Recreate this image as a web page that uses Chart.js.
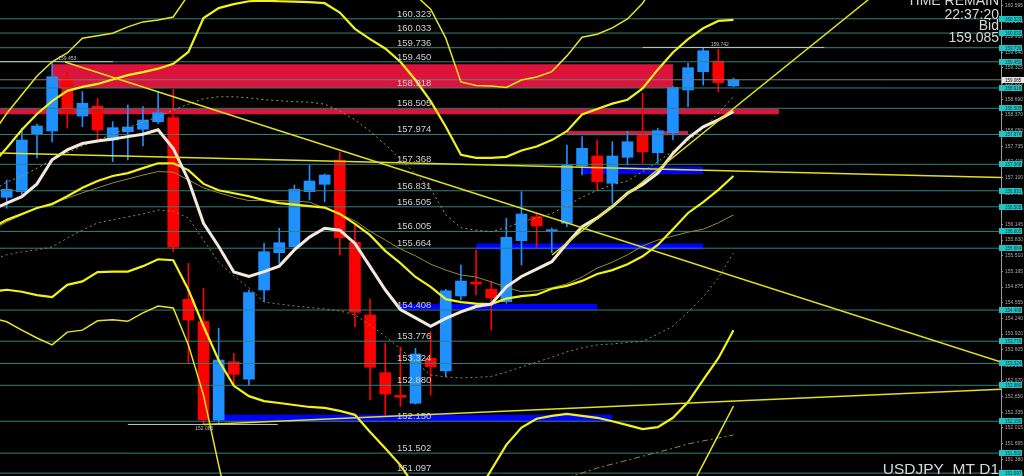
<!DOCTYPE html>
<html><head><meta charset="utf-8">
<script src="https://cdn.jsdelivr.net/npm/chart.js@4.4.0/dist/chart.umd.min.js"></script>
<style>html,body{margin:0;padding:0;background:#000;overflow:hidden}canvas{display:block}</style>
</head><body>
<canvas id="c" width="1024" height="476"></canvas>
<script>
// ---- candles (bar index 0..48) ----
const candleOpen  = [156.698,156.812,157.984,158.044,159.115,158.349,158.552,157.862,158.030,158.079,158.233,158.315,154.627,154.172,152.175,153.359,153.002,154.815,155.573,155.695,156.812,156.962,157.456,155.784,154.308,153.136,152.669,152.514,153.428,153.170,154.694,154.972,154.830,154.578,155.817,156.304,156.000,156.170,157.334,157.537,156.982,157.510,157.963,157.604,158.010,158.877,159.249,159.466,158.960];
const candleHigh  = [157.049,158.105,158.187,159.453,159.243,158.843,158.709,158.233,158.573,158.538,158.843,158.891,155.358,154.850,154.037,153.530,154.815,155.764,156.068,156.948,157.354,157.171,157.618,156.135,154.633,153.733,153.664,153.631,153.968,154.830,155.323,155.628,154.984,156.272,156.812,156.385,156.075,157.760,157.929,157.862,157.827,158.045,158.810,158.099,158.958,159.419,159.742,159.704,159.120];
const candleLow   = [156.475,156.745,157.496,157.821,158.100,158.132,157.862,157.421,157.456,157.740,158.201,155.593,153.327,152.085,152.114,152.886,152.886,154.578,155.358,155.668,156.643,156.609,155.526,154.070,152.581,152.277,152.445,152.500,152.683,153.055,154.612,154.714,154.003,154.545,155.323,155.683,155.573,156.101,157.151,156.861,156.576,157.354,157.389,157.389,157.862,158.538,158.979,158.843,158.940];
const candleClose = [156.860,157.862,158.146,159.147,158.404,158.607,158.065,158.112,158.126,158.268,158.416,155.683,154.206,152.175,153.394,153.103,154.761,155.593,155.776,156.861,157.029,157.151,155.878,154.362,153.246,152.703,152.636,153.516,153.258,154.801,154.998,154.937,154.659,155.886,156.359,156.115,156.034,157.354,157.693,157.015,157.537,157.827,157.624,158.051,158.932,159.330,159.675,159.026,159.085];

// ---- indicator series (bar index -1..48) ----
const maWhite = [156.44,156.58,156.71,156.97,157.46,157.66,157.79,157.84,157.88,157.93,157.98,158.07,157.69,157.05,156.17,155.70,155.18,155.09,155.19,155.30,155.63,155.89,156.07,156.03,155.76,155.29,154.82,154.42,154.25,154.08,154.24,154.37,154.48,154.53,154.88,155.09,155.24,155.39,155.76,156.10,156.28,156.51,156.78,156.96,157.19,157.59,157.90,158.13,158.27,158.44];
const bandOuterUpper = [157.96,158.40,158.78,159.16,159.45,159.63,159.93,159.98,160.03,160.16,160.26,160.30,160.36,160.81,161.52,161.92,162.23,162.43,162.53,162.57,162.57,162.49,162.33,162.13,161.82,161.52,161.21,161.05,160.80,160.52,159.93,159.04,158.97,158.96,158.93,159.08,159.14,159.25,159.57,159.95,160.01,160.14,160.32,160.64,161.11,161.52,161.82,162.13,162.33,162.53];
const bandUpper = [157.35,157.70,158.07,158.39,158.65,158.86,158.94,159.00,159.09,159.18,159.24,159.31,159.41,159.65,160.34,160.54,160.62,160.68,160.69,160.68,160.67,160.66,160.64,160.45,160.12,159.91,159.72,159.45,159.08,158.65,158.13,157.56,157.50,157.50,157.52,157.65,157.73,157.86,158.04,158.38,158.49,158.60,158.68,158.91,159.29,159.64,159.91,160.13,160.28,160.30];
const centerDotted = [156.81,157.01,157.13,157.29,157.46,157.60,157.74,157.86,157.98,158.11,158.23,158.33,158.47,158.59,158.70,158.74,158.74,158.72,158.68,158.66,158.64,158.63,158.59,158.45,158.27,158.04,157.77,157.48,157.17,156.87,156.34,156.08,156.03,156.00,156.08,156.20,156.28,156.37,156.53,156.70,156.84,156.95,157.03,157.22,157.42,157.64,157.84,158.09,158.41,158.74];
const bandMiddleLower = [156.07,156.24,156.36,156.48,156.56,156.72,156.89,157.03,157.13,157.19,157.29,157.39,157.39,157.25,156.97,156.84,156.78,156.72,156.64,156.58,156.55,156.52,156.49,156.36,156.16,155.93,155.61,155.36,155.08,154.88,154.63,154.57,154.54,154.53,154.64,154.69,154.72,154.84,154.90,155.00,155.14,155.22,155.34,155.50,155.73,156.05,156.38,156.60,156.85,157.13];
const oliveLine = [156.03,156.20,156.34,156.48,156.58,156.68,156.79,156.89,156.99,157.07,157.15,157.22,157.21,157.05,156.89,156.79,156.70,156.63,156.64,156.63,156.62,156.60,156.48,156.36,156.22,156.01,155.83,155.65,155.51,155.34,155.22,155.12,155.08,154.98,154.87,154.78,154.80,154.86,154.94,155.08,155.26,155.38,155.53,155.71,155.83,155.91,155.99,156.05,156.18,156.34];
const lowerDotted = [155.42,155.53,155.59,155.63,155.69,155.87,156.03,156.18,156.24,156.30,156.36,156.44,156.41,156.28,155.83,155.38,155.10,154.86,154.57,154.53,154.49,154.46,154.43,154.39,154.31,154.10,153.88,153.62,153.35,153.09,153.05,153.03,153.04,153.06,153.15,153.25,153.35,153.45,153.56,153.64,153.70,153.72,153.75,153.77,153.92,154.08,154.37,154.67,155.06,155.57];
const bandLower = [154.78,154.82,154.78,154.71,154.67,154.92,154.99,155.18,155.19,155.19,155.30,155.44,155.42,154.82,154.08,153.39,152.87,152.66,152.56,152.52,152.48,152.44,152.42,152.36,152.28,151.93,151.60,151.26,150.80,150.40,150.25,150.35,150.65,151.16,151.67,152.02,152.20,152.26,152.30,152.26,152.22,152.15,152.07,151.99,152.03,152.22,152.54,152.99,153.43,154.00];
const bandOuterLower = [154.25,154.17,154.00,153.84,153.70,153.96,154.00,154.19,154.21,154.18,154.35,154.49,154.45,153.70,152.68,151.26,149.94,149.13,148.50,148.50,148.50,148.50,148.50,148.50,148.50,148.50,148.50,148.50,148.50,148.50,148.50,148.50,148.50,148.50,148.50,148.50,148.50,148.50,148.50,148.50,148.50,148.50,148.50,148.50,148.50,148.50,150.69,151.28,151.87,152.46];
const dashDotLine = [null,null,null,null,null,null,null,null,null,null,null,null,null,null,null,null,null,null,null,null,null,null,null,null,null,null,null,null,null,null,null,null,null,null,null,null,null,null,151.00,151.10,151.20,151.28,151.36,151.44,151.52,151.60,151.69,151.75,151.81,151.87];

// ---- trendlines: [bar, price] endpoints ----
const trendFromBar   = [3.85, -0.4425, 13, 36.02];
const trendFromPrice = [159.446, 157.598, 152.085, 155.526];
const trendToBar     = [65.67, 65.67, 65.67, 60];
const trendToPrice   = [153.353, 157.100, 152.800, 161.48];

// ---- horizontal levels ----
const levelValues = [160.323,160.033,159.736,159.450,158.918,158.505,157.974,157.368,156.831,156.505,156.005,155.664,154.408,153.776,153.324,152.880,152.150,151.502,151.097];
const levelLabels = ['160.323','160.033','159.736','159.450','158.918','158.505','157.974','157.368','156.831','156.505','156.005','155.664','154.408','153.776','153.324','152.880','152.150','151.502','151.097'];
const bidPrice = 159.085;
const bidLabel = '159.085';

// ---- zones ----
const redZoneFrom = [3, -0.4425, 37];
const redZoneTo = [44, 51, 45];
const redZoneTop = [159.40, 158.49, 158.045];
const redZoneBottom = [158.918, 158.385, 157.957];
const blueZoneFrom = [13.6, 26, 31, 38];
const blueZoneTo = [40, 39, 46, 46];
const blueZoneTop = [152.28, 154.53, 155.76, 157.32];
const blueZoneBottom = [152.14, 154.42, 155.64, 157.17];

// ---- high / low marks ----
const markPrice = [159.453, 152.085, 159.742];
const markLabel = ['159.453', '152.085', '159.742'];
const markFrom = [-0.4425, 8.0, 42.0];
const markTo = [7.02, 17.9, 54.0];
const markLabelBar = [3.4, 12.45, 46.5];

// ---- right axis ticks ----
const axisTickLabels = ['151.060','151.380','151.695','152.015','152.335','152.650','152.970','153.285','153.605','153.920','154.240','154.555','154.875','155.195','155.510','155.830','156.145','156.465','156.780','157.100','157.415','157.735','158.050','158.370','158.690','159.005','159.325','159.640','159.960','160.275','160.595'];

const X_MIN = -0.4425, X_MAX = 65.67, Y_MIN = 151.038, Y_MAX = 160.705;
const LEVEL_LABEL_BAR = 25.78;

const BLUE = '#1e90ff', RED = '#ff0000';
const bars = candleOpen.map((_, i) => i);
const candleColors = bars.map(i => candleClose[i] >= candleOpen[i] ? BLUE : RED);
const series = arr => arr.map((v, k) => ({x: k - 1, y: v}));

const datasets = [];
// zones (bottom)
redZoneFrom.forEach((f, k) => datasets.push({type:'line', data:[{x:f,y:redZoneTop[k]},{x:redZoneTo[k],y:redZoneTop[k]}], borderWidth:0, pointRadius:0, fill:{value:redZoneBottom[k]}, backgroundColor: k===2 ? '#c81e46' : '#dc143c', order:100}));
blueZoneFrom.forEach((f, k) => datasets.push({type:'line', data:[{x:f,y:blueZoneTop[k]},{x:blueZoneTo[k],y:blueZoneTop[k]}], borderWidth:0, pointRadius:0, fill:{value:blueZoneBottom[k]}, backgroundColor:'#0000ff', order:99}));
// candles
datasets.push({type:'bar', data: bars.map(i => ({x:i, y:[candleLow[i], candleHigh[i]]})), backgroundColor:candleColors, barThickness:1, grouped:false, order:30});
datasets.push({type:'bar', data: bars.map(i => ({x:i, y:[candleOpen[i], candleClose[i]]})), backgroundColor:candleColors, barThickness:11, minBarLength:2, grouped:false, order:29});
// level lines
const levelData = [];
levelValues.forEach(v => levelData.push({x:X_MIN,y:v},{x:X_MAX,y:v},{x:X_MAX,y:null}));
datasets.push({type:'line', data:levelData, borderColor:'#35807a', borderWidth:1, pointRadius:0, spanGaps:false, order:20});
datasets.push({type:'line', data:[{x:X_MIN,y:bidPrice},{x:X_MAX,y:bidPrice}], borderColor:'#7a7a7a', borderWidth:1, pointRadius:0, order:19});
const markData = [];
markPrice.forEach((p, k) => markData.push({x:markFrom[k],y:p},{x:markTo[k],y:p},{x:markTo[k],y:null}));
datasets.push({type:'line', data:markData, borderColor:'#c8c8c8', borderWidth:1, pointRadius:0, spanGaps:false, order:18});
// indicators
const ln = (arr, color, w, dash, order) => ({type:'line', data:series(arr), borderColor:color, borderWidth:w, borderDash:dash||[], pointRadius:0, tension:0, spanGaps:false, fill:false, order:order});
datasets.push(ln(lowerDotted, '#8c8c3c', 1, [2,3], 12));
datasets.push(ln(dashDotLine, '#8c8c3c', 1, [6,3,2,3], 12));
datasets.push(ln(centerDotted, '#9c9c40', 1, [2,3], 12));
datasets.push(ln(oliveLine, '#8f8f30', 1, [], 11));
datasets.push(ln(bandOuterUpper, '#e6e61e', 1.5, [], 10));
datasets.push(ln(bandOuterLower, '#e6e61e', 1.5, [], 10));
datasets.push(ln(bandUpper, '#f2f21a', 2.2, [], 9));
datasets.push(ln(bandLower, '#f2f21a', 2.2, [], 9));
datasets.push(ln(bandMiddleLower, '#f2f21a', 2.2, [], 9));
datasets.push(ln(maWhite, '#f5e9dc', 3, [], 8));
// trendlines
trendFromBar.forEach((f, k) => datasets.push({type:'line', data:[{x:f,y:trendFromPrice[k]},{x:trendToBar[k],y:trendToPrice[k]}], borderColor:'#e0e01c', borderWidth:1.5, pointRadius:0, order:5}));

const FONT = '"Liberation Sans", Arial, sans-serif';
const textPlugin = {
  id: 'mt4text',
  afterDraw(chart) {
    const {ctx} = chart; const x = chart.scales.x, y = chart.scales.y;
    ctx.save();
    ctx.textAlign = 'left'; ctx.textBaseline = 'alphabetic';
    ctx.font = '9.5px ' + FONT; ctx.fillStyle = '#cfcfcf';
    const lx = x.getPixelForValue(LEVEL_LABEL_BAR);
    levelValues.forEach((v, k) => ctx.fillText(levelLabels[k], lx, y.getPixelForValue(v) - 2));
    ctx.font = '5px ' + FONT; ctx.fillStyle = '#c0c0c0';
    markPrice.forEach((p, k) => {
      const py = y.getPixelForValue(p);
      ctx.fillText(markLabel[k], x.getPixelForValue(markLabelBar[k]), k === 1 ? py + 6 : py - 1.5);
    });
    // axis boxes
    const ax = y.left;
    ctx.font = '4.5px ' + FONT;
    levelValues.forEach((v, k) => {
      const py = Math.round(y.getPixelForValue(v));
      ctx.fillStyle = '#20c4c4'; ctx.fillRect(ax - 2, py - 3, 23, 6);
      ctx.fillStyle = '#0a3a3a'; ctx.fillText(levelLabels[k], ax + 4, py + 2);
    });
    const by = Math.round(y.getPixelForValue(bidPrice));
    ctx.fillStyle = '#e8e8e8'; ctx.fillRect(ax + 1, by - 3, 22, 6);
    ctx.fillStyle = '#000'; ctx.fillText(bidLabel, ax + 4, by + 2);
    // info texts
    ctx.textAlign = 'right'; ctx.fillStyle = '#d8d8d8';
    ctx.font = '14px ' + FONT;
    ctx.fillText('TIME REMAIN', 999, 5);
    ctx.fillText('22:37:20', 999, 18.5);
    ctx.fillText('Bid', 999, 30);
    ctx.fillText(bidLabel, 999, 42);
    ctx.font = '15.5px ' + FONT;
    ctx.fillText('USDJPY_MT D1', 999, 474);
    ctx.restore();
  }
};

new Chart(document.getElementById('c'), {
  type: 'line',
  data: {datasets},
  options: {
    responsive: false, animation: false, devicePixelRatio: 1,
    layout: {padding: 0},
    plugins: {legend: {display:false}, tooltip: {enabled:false}},
    events: [],
    scales: {
      x: {type:'linear', min:X_MIN, max:X_MAX, display:false, offset:false, grid:{offset:false}},
      y: {
        type:'linear', position:'right', min:Y_MIN, max:Y_MAX,
        afterBuildTicks(s) { s.ticks = axisTickLabels.map(t => ({value: parseFloat(t)})); },
        afterFit(s) { s.width = 23; s.paddingTop = 0; s.paddingBottom = 0; },
        ticks: {autoSkip:false, font:{size:5, family:FONT}, color:'#a8a8a8', padding:2, callback:(v, i) => axisTickLabels[i]},
        grid: {drawOnChartArea:false, drawTicks:true, tickLength:2, color:'#8a8a8a'},
        border: {display:true, color:'#9a9a9a'}
      }
    }
  },
  plugins: [textPlugin]
});
</script>
</body></html>
